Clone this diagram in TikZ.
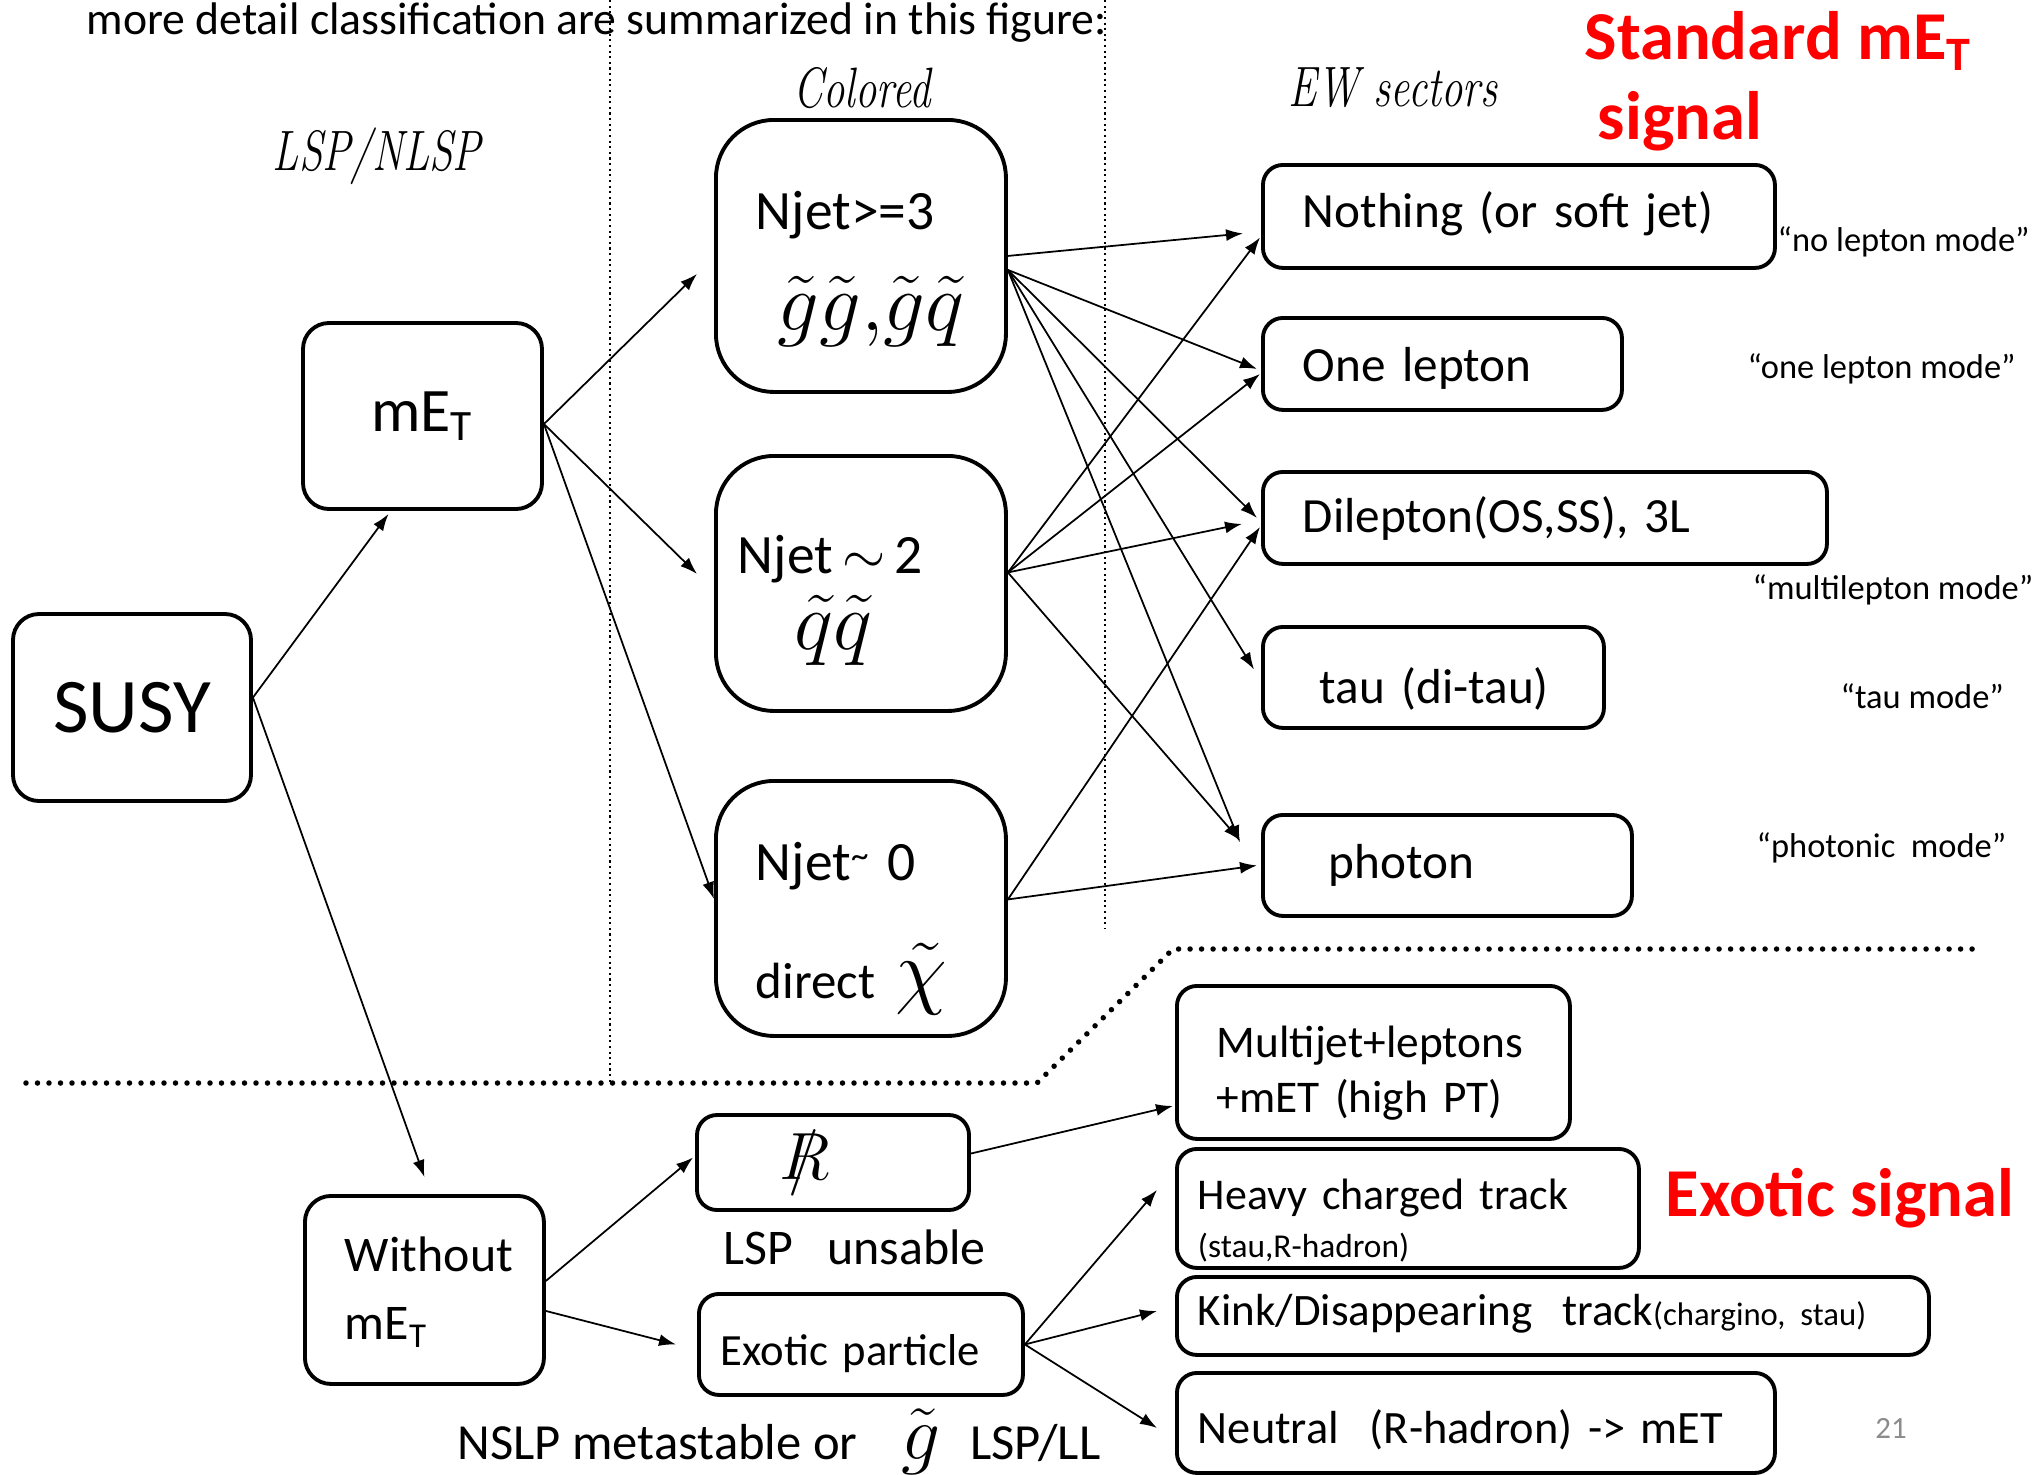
\RequirePackage{fix-cm}
\documentclass[tikz,border=0pt]{standalone}
\usepackage{fontspec}
\setmainfont{Carlito}
\newfontfamily\sectfont{Latin Modern Roman}[FakeStretch=0.75]
\usetikzlibrary{arrows.meta}
\definecolor{sigred}{RGB}{255,0,0}
\definecolor{pagegray}{RGB}{140,140,140}
\newcommand{\mET}{mE\textsubscript{T}}
\hyphenpenalty=10000
\exhyphenpenalty=10000
\tikzset{
  roundbox/.style={draw, line width=1.1pt, rounded corners=2.6mm, align=center},
  bigbox/.style={draw, line width=1.1pt, rounded corners=5.8mm, anchor=north west, align=left, inner ysep=0pt},
  ewbox/.style={draw, line width=1.1pt, rounded corners=2mm, anchor=north west, align=left,
    inner xsep=4mm, inner ysep=0pt, font=\fontsize{14}{17}\selectfont},
  exbox/.style={ewbox, inner xsep=2.1mm, font=\fontsize{12.9}{15}\selectfont},
  below base/.style={text height=#1, text depth=0pt},
  above base/.style={text height=0pt, text depth=#1},
  plaintext/.style={anchor=west, inner xsep=0pt},
  modelabel/.style={plaintext, font=\fontsize{9.8}{12}\selectfont},
  sector/.style={font=\sectfont\itshape\fontsize{16.2}{19}\selectfont},
  sigtext/.style={text=sigred, font=\bfseries\fontsize{19.5}{22}\selectfont},
  arrowline/.style={->, line width=0.5pt},
}
\begin{document}
\begin{tikzpicture}[>={Latex[length=1.7mm,width=1.2mm]}]
  \useasboundingbox (0,0) rectangle (20.32,-14.74);
  % ============= headings =============
  \node[plaintext, font=\fontsize{13}{15}\selectfont] (title) at (0.86,-0.23)
    {more detail classification are summarized in this figure:};
  \node[sector] (lspnlsp) at (3.77,-1.56) {LSP/NLSP};
  \node[sector] (colored) at (8.62,-0.88) {Colored};
  \node[sector] (ewsect)  at (13.93,-0.88) {EW sectors};
  \node[sigtext, plaintext] (stdsig) at (15.84,-0.41) {Standard \mET};
  \node[sigtext] (stdsig2) at (16.80,-1.21) {signal};
  \node[sigtext, plaintext] (exosig) at (16.65,-11.98) {Exotic signal};
  \node[text=pagegray, font=\fontsize{8.8}{10}\selectfont] (pagenum) at (18.91,-14.28) {21};
  % ============= separators =============
  \draw[line width=0.4pt, dash pattern=on 0.6pt off 1pt] (6.10,0) -- (6.10,-10.82);
  \draw[line width=0.4pt, dash pattern=on 0.6pt off 1pt] (11.05,0) -- (11.05,-9.28);
  \draw[line width=0.55mm, line cap=round, dash pattern=on 0pt off 1.15mm]
    (0.26,-10.83) -- (10.37,-10.83) -- (11.73,-9.49) -- (19.76,-9.49);
  % ============= left column =============
  \node[roundbox, minimum width=2.38cm, minimum height=1.87cm, font=\fontsize{22}{26}\selectfont]
    (susy) at (1.32,-7.075) {SUSY};
  \node[roundbox, minimum width=2.39cm, minimum height=1.86cm, font=\fontsize{17.6}{20}\selectfont]
    (met) at (4.225,-4.16) {\mET};
  \node[ewbox, text width=15.9mm, minimum height=1.88cm, rounded corners=2.6mm, above base=3.6mm,
    font=\fontsize{14.2}{19.3}\selectfont] (nomet) at (3.03,-11.94) {Without\\\mET};
  % ============= colored sector =============
  \node[bigbox, text width=21mm, inner xsep=4mm, minimum height=2.72cm, above base=5.2mm,
    font=\fontsize{15.8}{28.7}\selectfont] (nj3) at (7.14,-1.18)
    {Njet>=3\\\hspace*{2.2mm}{\fontsize{23.5}{28}\selectfont$\tilde g\tilde g{,}\tilde g\tilde q$}};
  \node[bigbox, text width=24.6mm, inner xsep=2.2mm, minimum height=2.55cm, above base=2mm,
    font=\fontsize{15.8}{21.5}\selectfont] (nj2) at (7.14,-4.54)
    {Njet$\,\sim\,$2\\\hspace*{5.7mm}{\fontsize{23.5}{28}\selectfont$\tilde q\tilde q$}};
  \node[bigbox, text width=21mm, inner xsep=4mm, minimum height=2.55cm, above base=5.6mm,
    font=\fontsize{15.8}{33.7}\selectfont] (nj0) at (7.14,-7.79)
    {Njet\raisebox{0.5ex}{\fontsize{10}{10}\selectfont\textasciitilde}\ 0\\{\fontsize{14.5}{17}\selectfont direct}\hspace{2mm}{\fontsize{24}{24}\selectfont$\tilde\chi$}};
  % ============= EW sectors =============
  \node[ewbox, text width=43.2mm, minimum height=1.03cm, below base=2.3mm] (nothing) at (12.61,-1.63) {Nothing (or soft jet)};
  \node[ewbox, text width=27.9mm, minimum height=0.92cm, below base=3.6mm] (onelep) at (12.61,-3.16) {One lepton};
  \node[ewbox, text width=48.4mm, minimum height=0.92cm, below base=3mm] (dilep) at (12.61,-4.70) {Dilepton(OS,SS), 3L};
  \node[ewbox, text width=26.1mm, minimum height=1.01cm, below base=5.3mm] (tau) at (12.61,-6.25) {\hspace*{1.7mm}tau (di-tau)};
  \node[ewbox, text width=28.9mm, minimum height=1.01cm, below base=2.7mm] (photon) at (12.61,-8.13) {\hspace*{2.6mm}photon};
  \node[modelabel] (mnolep) at (17.77,-2.42) {``no lepton mode''};
  \node[modelabel] (monelep) at (17.47,-3.69) {``one lepton mode''};
  \node[modelabel] (mmulti) at (17.52,-5.90) {``multilepton mode''};
  \node[modelabel] (mtau) at (18.40,-6.96) {``tau mode''};
  \node[modelabel] (mphoton) at (17.56,-8.48) {``photonic\ \ mode''};
  % ============= exotic part =============
  \node[roundbox, rounded corners=2mm, minimum width=2.72cm, minimum height=0.95cm,
    font=\fontsize{19}{19}\selectfont] (rpv) at (8.33,-11.625) {$R\mkern-11mu/\mkern2mu$\hspace{6mm}};
  \node[exbox, text width=28mm, inner xsep=2.2mm, minimum height=1.01cm, below base=4.2mm,
    font=\fontsize{12.7}{15}\selectfont] (exotic) at (6.97,-12.92) {Exotic particle};
  \node[plaintext, font=\fontsize{14.2}{17}\selectfont] (lspunsable) at (7.23,-12.47) {LSP\ \ \ unsable};
  \node[plaintext, font=\fontsize{14.4}{17}\selectfont] (nslp) at (4.57,-14.42)
    {NSLP metastable or\hspace{4.4mm}{\fontsize{22}{22}\selectfont$\tilde g$}\hspace{3mm}LSP/LL};
  \node[ewbox, text width=31.3mm, minimum height=1.53cm, above base=0.9mm,
    font=\fontsize{12.9}{15.4}\selectfont] (multijet) at (11.75,-9.84) {Multijet+leptons\\+mET (high PT)};
  \node[exbox, text width=42mm, minimum height=1.19cm, below base=0.3mm,
    font=\fontsize{12.5}{13.4}\selectfont] (heavy) at (11.75,-11.47)
    {Heavy charged track\\{\fontsize{9.5}{11}\selectfont(stau,R-hadron)}};
  \node[exbox, text width=71mm, minimum height=0.78cm, below base=2mm,
    font=\fontsize{12.8}{15}\selectfont] (kink) at (11.75,-12.75)
    {Kink/Disappearing\ \ track{\fontsize{9.3}{11}\selectfont(chargino, stau)}};
  \node[exbox, text width=55.6mm, minimum height=1.00cm, below base=4.2mm,
    font=\fontsize{13.2}{15}\selectfont] (neutral) at (11.75,-13.71) {Neutral\ \ (R-hadron) -> mET};
  % ============= connectors =============
  \draw[arrowline] ([yshift=1mm]susy.east) -- ([shift={(-0.34,-0.03)}]met.south);
  \draw[arrowline] ([yshift=1mm]susy.east) -- ([yshift=1.7mm]nomet.north);
  \draw[arrowline] ([yshift=-0.8mm]met.east) -- ([shift={(-0.17,-0.18)}]nj3.west);
  \draw[arrowline] ([yshift=-0.8mm]met.east) -- ([shift={(-0.17,0.095)}]nj2.west);
  \draw[arrowline] ([yshift=-0.8mm]met.east) -- ([yshift=0.95mm]nj0.west);
  % Njet>=3 fan
  \draw[arrowline] (nj3.east) -- ([shift={(-0.18,-0.17)}]nothing.west);
  \draw[arrowline] ([yshift=-1.4mm]nj3.east) -- ([shift={(-0.04,-0.05)}]onelep.west);
  \draw[arrowline] ([yshift=-1.4mm]nj3.east) -- ([xshift=-0.4mm]dilep.west);
  \draw[arrowline] ([yshift=-1.4mm]nj3.east) -- ([shift={(-0.07,0.08)}]tau.west);
  \draw[arrowline] ([yshift=-1.4mm]nj3.east) -- ([shift={(-0.21,0.23)}]photon.west);
  % Njet~2 fan
  \draw[arrowline] ([yshift=1.1mm]nj2.east) -- ([shift={(-0.01,-0.21)}]nothing.west);
  \draw[arrowline] ([yshift=1.1mm]nj2.east) -- ([shift={(-0.01,-0.10)}]onelep.west);
  \draw[arrowline] ([yshift=1.1mm]nj2.east) -- ([shift={(-0.19,-0.06)}]dilep.west);
  \draw[arrowline] ([yshift=1.1mm]nj2.east) -- ([shift={(-0.21,0.25)}]photon.west);
  % Njet~0 fan
  \draw[arrowline] ([yshift=0.9mm]nj0.east) -- ([shift={(-0.01,-0.09)}]dilep.west);
  \draw[arrowline] ([yshift=0.9mm]nj0.east) -- ([xshift=-0.4mm]photon.west);
  % without mET
  \draw[arrowline] ([yshift=0.9mm]nomet.east) -- ([shift={(-0.02,0.05)}]rpv.west);
  \draw[arrowline] ([yshift=-2.1mm]nomet.east) -- ([xshift=-2.1mm]exotic.west);
  \draw[arrowline] ([yshift=0.9mm]rpv.east) -- ([shift={(-0.02,-0.435)}]multijet.west);
  \draw[arrowline] (exotic.east) -- ([shift={(-0.18,0.185)}]heavy.west);
  \draw[arrowline] (exotic.east) -- ([shift={(-0.18,0.05)}]kink.west);
  \draw[arrowline] (exotic.east) -- ([shift={(-0.18,-0.05)}]neutral.west);
\end{tikzpicture}
\end{document}
